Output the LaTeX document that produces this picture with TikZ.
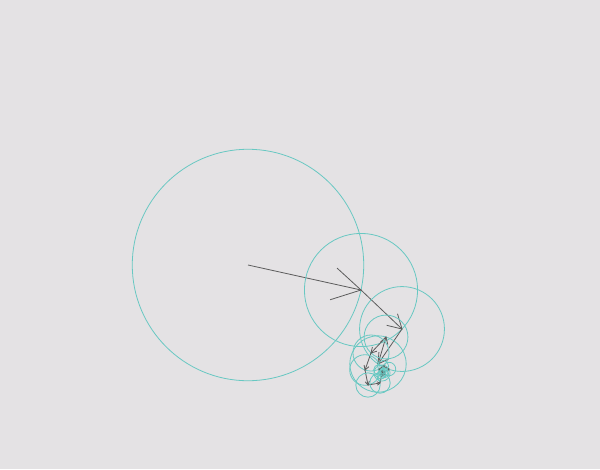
\documentclass[tikz,border=0pt]{standalone}
\usetikzlibrary{calc}
\definecolor{paper}{RGB}{228,226,228}
\definecolor{orbitcol}{RGB}{104,200,194}
\definecolor{radiuscol}{RGB}{92,92,92}
\tikzset{
  orbit/.style={draw=orbitcol, line width=0.8pt},
  radius line/.style={draw=radiuscol, line width=0.8pt},
}
% circle round #1 through #2, and the open-headed radius from #1 to #2
\newcommand{\epicycle}[2]{%
  \draw[orbit] let \p1=($(#2)-(#1)$), \n1={veclen(\x1,\y1)} in (#1) circle[radius=\n1];
  \draw[radius line] (#1) -- (#2);
  \draw[radius line] ($(#2)!0.28!30:(#1)$) -- (#2) -- ($(#2)!0.28!-30:(#1)$);
}
\begin{document}
\begin{tikzpicture}[x=1pt,y=-1pt]
\fill[paper] (0,0) rectangle (600,469);
\useasboundingbox (0,0) rectangle (600,469);
\coordinate (p0) at (248,265);
\coordinate (p1) at (361,290);
\coordinate (p2) at (402,329);
\coordinate (p3) at (378,364);
\coordinate (p4) at (386,337);
\coordinate (p5) at (371,353);
\coordinate (p6) at (365,370);
\coordinate (p7) at (368,385);
\coordinate (p8) at (380,383);
\coordinate (p9) at (382,373);
\coordinate (p10) at (389,369);
\coordinate (p11) at (383,366);
\coordinate (p12) at (379,370);
\coordinate (p13) at (384,372);
\coordinate (p14) at (381,375);
\coordinate (p15) at (385,374);
\coordinate (p16) at (383,371);
\coordinate (p17) at (381,373);
\coordinate (p18) at (383,375);
\coordinate (p19) at (384,372);
\coordinate (p20) at (382,371);
\coordinate (p21) at (383,373);
\coordinate (p22) at (382,372);
\epicycle{p0}{p1}
\epicycle{p1}{p2}
\epicycle{p2}{p3}
\epicycle{p3}{p4}
\epicycle{p4}{p5}
\epicycle{p5}{p6}
\epicycle{p6}{p7}
\epicycle{p7}{p8}
\epicycle{p8}{p9}
\epicycle{p9}{p10}
\epicycle{p10}{p11}
\epicycle{p11}{p12}
\epicycle{p12}{p13}
\epicycle{p13}{p14}
\epicycle{p14}{p15}
\epicycle{p15}{p16}
\epicycle{p16}{p17}
\epicycle{p17}{p18}
\epicycle{p18}{p19}
\epicycle{p19}{p20}
\epicycle{p20}{p21}
\epicycle{p21}{p22}
\end{tikzpicture}
\end{document}
